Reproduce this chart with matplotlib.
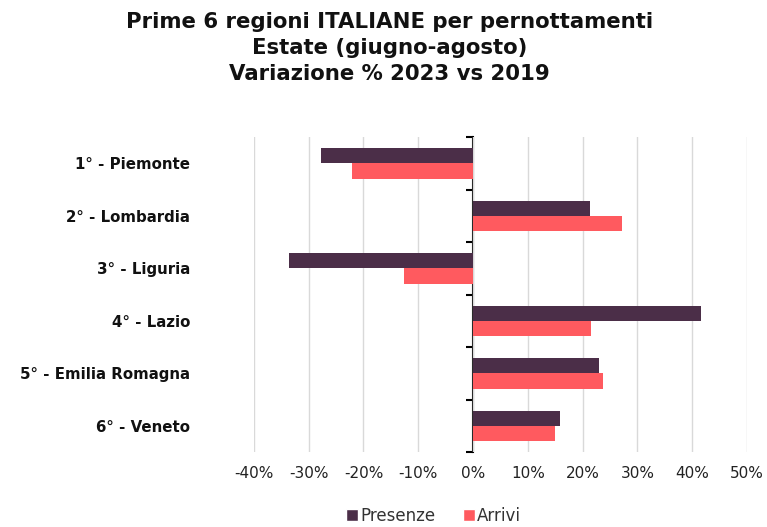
import matplotlib
matplotlib.use("Agg")
import matplotlib.pyplot as plt
import numpy as np
from matplotlib.lines import Line2D

plt.rcParams['font.family'] = ['DejaVu Sans']

categories = ["1° - Piemonte", "2° - Lombardia", "3° - Liguria", "4° - Lazio",
              "5° - Emilia Romagna", "6° - Veneto"]
presenze = [-27.8, 21.3, -33.6, 41.6, 22.9, 15.9]
arrivi = [-22.1, 27.2, -12.6, 21.6, 23.7, 15.0]
xticks = [-40, -30, -20, -10, 0, 10, 20, 30, 40, 50]
xticklabels = [f"{v}%" for v in xticks]

c_pres = "#4B2E48"
c_arr = "#FF5A5F"

fig = plt.figure(figsize=(7.67, 5.27), dpi=100)
ax = fig.add_axes([0.331, 0.142, 0.643, 0.598])

y = np.arange(len(categories))
h = 0.29
ax.barh(y - h/2, presenze, height=h, color=c_pres, zorder=3, label="Presenze")
ax.barh(y + h/2, arrivi, height=h, color=c_arr, zorder=3, label="Arrivi")

ax.set_xlim(-40, 50)
ax.set_ylim(len(categories) - 0.5, -0.5)
ax.set_xticks(xticks)
ax.set_xticklabels(xticklabels, fontsize=11, color="#222222")
ax.set_yticks(y)
ax.set_yticklabels(categories, fontsize=10.8, fontweight="bold", color="#111111")
ax.tick_params(axis='y', length=0, pad=46)
ax.tick_params(axis='x', length=0, pad=10)
for s in ax.spines.values():
    s.set_visible(False)
ax.grid(axis='x', color="#d9d9d9", linewidth=1, zorder=0)

# zero axis with tick marks at category boundaries
zero_pos = (0 - (-40)) / (50 - (-40))
sec = ax.secondary_yaxis(zero_pos)
sec.set_yticks(np.arange(len(categories) + 1) - 0.5)
sec.set_yticklabels([])
sec.tick_params(axis='y', direction='out', length=5, width=1.5, color="black")
sec.spines['left'].set_linewidth(1.5)
sec.spines['left'].set_color("black")

fig.text(0.508, 0.977, "Prime 6 regioni ITALIANE per pernottamenti\nEstate (giugno-agosto)\nVariazione % 2023 vs 2019",
         ha='center', va='top', fontsize=15.3, fontweight='bold', linespacing=1.38, color="#111111")

handles = [Line2D([0], [0], marker='s', color='w', markerfacecolor=c_pres, markersize=8, label="Presenze"),
           Line2D([0], [0], marker='s', color='w', markerfacecolor=c_arr, markersize=8, label="Arrivi")]
fig.legend(handles=handles, loc='lower center', bbox_to_anchor=(0.565, -0.025), ncol=2, frameon=False,
           fontsize=12, handlelength=0.8, handletextpad=0.1, columnspacing=1.6, labelcolor="#333333")

fig.savefig("out.png", dpi=100)
